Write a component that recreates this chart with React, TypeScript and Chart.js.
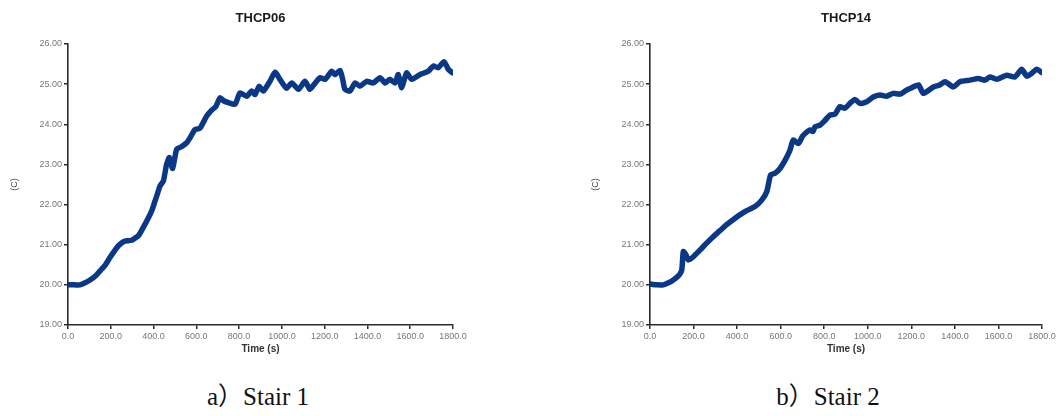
import React, { useEffect, useRef } from "react";
import { Chart, registerables } from "chart.js";

Chart.register(...registerables);

// ---- data ----
const stair1Title = "THCP06";
const stair1Times = [0, 30, 56, 80, 103, 128, 150, 175, 196, 215, 235, 252, 266, 282, 298, 315, 329, 352, 376, 392, 407, 420, 430, 446, 461, 474, 489, 508, 530, 555, 570, 594, 617, 648, 672, 692, 711, 730, 750, 781, 804, 835, 859, 874, 894, 913, 944, 968, 991, 1022, 1046, 1077, 1108, 1131, 1150, 1178, 1202, 1233, 1248, 1272, 1285, 1295, 1318, 1342, 1365, 1396, 1427, 1459, 1482, 1505, 1529, 1544, 1560, 1583, 1607, 1646, 1684, 1708, 1731, 1758, 1778, 1798];
const stair1Temps = [20.0, 20.0, 20.0, 20.05, 20.12, 20.22, 20.35, 20.5, 20.68, 20.83, 20.97, 21.05, 21.09, 21.1, 21.11, 21.17, 21.22, 21.43, 21.67, 21.85, 22.09, 22.3, 22.46, 22.59, 23.0, 23.17, 22.9, 23.38, 23.44, 23.54, 23.66, 23.87, 23.9, 24.2, 24.35, 24.45, 24.66, 24.58, 24.54, 24.5, 24.78, 24.7, 24.83, 24.74, 24.95, 24.83, 25.07, 25.3, 25.12, 24.9, 25.03, 24.87, 25.07, 24.87, 24.99, 25.16, 25.12, 25.32, 25.24, 25.34, 25.1, 24.87, 24.83, 25.03, 24.95, 25.07, 25.03, 25.16, 25.03, 25.12, 25.03, 25.24, 24.91, 25.28, 25.12, 25.24, 25.32, 25.45, 25.41, 25.56, 25.37, 25.28];

const stair2Title = "THCP14";
const stair2Times = [0, 30, 61, 85, 107, 125, 135, 146, 153, 165, 176, 199, 230, 260, 290, 321, 352, 383, 414, 444, 482, 513, 536, 554, 574, 597, 620, 643, 658, 681, 700, 712, 735, 748, 758, 781, 804, 826, 849, 872, 895, 918, 941, 964, 995, 1025, 1056, 1086, 1117, 1148, 1178, 1194, 1233, 1255, 1301, 1330, 1355, 1393, 1423, 1469, 1508, 1538, 1561, 1592, 1638, 1676, 1707, 1730, 1753, 1776, 1799];
const stair2Temps = [20.02, 20.0, 20.0, 20.05, 20.12, 20.2, 20.25, 20.37, 20.83, 20.75, 20.62, 20.7, 20.87, 21.04, 21.2, 21.35, 21.5, 21.63, 21.75, 21.85, 21.95, 22.11, 22.32, 22.74, 22.78, 22.9, 23.1, 23.36, 23.61, 23.52, 23.7, 23.77, 23.86, 23.82, 23.94, 23.98, 24.1, 24.23, 24.25, 24.44, 24.4, 24.52, 24.62, 24.52, 24.56, 24.68, 24.73, 24.7, 24.77, 24.75, 24.85, 24.89, 24.98, 24.77, 24.93, 24.98, 25.06, 24.93, 25.06, 25.1, 25.14, 25.1, 25.18, 25.12, 25.22, 25.18, 25.37, 25.2, 25.27, 25.37, 25.29];

const yMin = 19;
const yMax = 26;
const xMin = 0;
const xMax = 1800;
const yAxisTitle = "(C)";
const xAxisTitle = "Time (s)";
const captionA = "a）Stair 1";
const captionB = "b）Stair 2";

const LINE_COLOR = "#0a3886";
const AXIS_COLOR = "#2a2a2a";
const SANS = "'Liberation Sans', Arial, sans-serif";

type PanelProps = {
  title: string;
  times: number[];
  temps: number[];
  left: number;
  width: number;
  yAxisWidth: number;
  rightPad: number;
};

function Panel({ title, times, temps, left, width, yAxisWidth, rightPad }: PanelProps) {
  const ref = useRef<HTMLCanvasElement | null>(null);
  useEffect(() => {
    if (!ref.current) return;
    const data = times.map((t, i) => ({ x: t, y: temps[i] }));
    const chart = new Chart(ref.current, {
      type: "line",
      data: {
        datasets: [
          {
            data,
            borderColor: LINE_COLOR,
            backgroundColor: LINE_COLOR,
            borderWidth: 5.5,
            pointRadius: 0,
            tension: 0.2,
            borderCapStyle: "round",
            borderJoinStyle: "round",
            fill: false,
          },
        ],
      },
      options: {
        responsive: false,
        maintainAspectRatio: false,
        animation: false,
        layout: { padding: { left: 0, top: 0, right: rightPad, bottom: 15 } },
        plugins: {
          legend: { display: false },
          tooltip: { enabled: false },
          title: {
            display: true,
            text: title,
            fullSize: false,
            color: "#1a1a1a",
            font: { family: SANS, size: 13, weight: "bold", lineHeight: 1 },
            padding: { top: 12, bottom: 19 },
          },
        },
        scales: {
          x: {
            type: "linear",
            min: xMin,
            max: xMax,
            afterFit: (s: any) => {
              s.height = 30;
            },
            ticks: {
              stepSize: 200,
              autoSkip: false,
              maxRotation: 0,
              padding: 2,
              color: "#777",
              font: { family: SANS, size: 9 },
              callback: (v: any) => Number(v).toFixed(1),
            },
            grid: { drawOnChartArea: false, drawTicks: true, tickLength: 4, color: AXIS_COLOR, lineWidth: 1.5 },
            border: { display: true, color: AXIS_COLOR, width: 1.6 },
            title: {
              display: true,
              text: xAxisTitle,
              color: "#333",
              font: { family: SANS, size: 10, weight: "bold", lineHeight: 1 },
              padding: { top: 0, bottom: 1 },
            },
          },
          y: {
            type: "linear",
            min: yMin,
            max: yMax,
            afterFit: (s: any) => {
              s.width = yAxisWidth;
            },
            ticks: {
              stepSize: 1,
              padding: 2,
              color: "#777",
              font: { family: SANS, size: 9 },
              callback: (v: any) => Number(v).toFixed(2),
            },
            grid: { drawOnChartArea: false, drawTicks: true, tickLength: 4, color: AXIS_COLOR, lineWidth: 1.5 },
            border: { display: true, color: AXIS_COLOR, width: 1.6 },
            title: {
              display: true,
              text: yAxisTitle,
              color: "#444",
              font: { family: SANS, size: 9, lineHeight: 1.2 },
              padding: { top: 9, bottom: 0 },
            },
          },
        },
      },
    } as any);
    return () => chart.destroy();
  }, [title, times, temps, yAxisWidth, rightPad]);

  return (
    <canvas
      ref={ref}
      width={width}
      height={370}
      style={{ position: "absolute", left, top: 0, width, height: 370, display: "block" }}
    />
  );
}

const captionStyle: React.CSSProperties = {
  position: "absolute",
  top: 381,
  width: 240,
  textAlign: "center",
  fontFamily: "'Liberation Serif', 'Noto Sans CJK SC', serif",
  fontSize: 25,
  lineHeight: "32px",
  color: "#111",
  whiteSpace: "nowrap",
};

export default function App() {
  return (
    <div style={{ position: "absolute", left: 0, top: 0, width: 1062, height: 416, background: "#fff", overflow: "hidden" }}>
      <Panel title={stair1Title} times={stair1Times} temps={stair1Temps} left={0} width={530} yAxisWidth={68} rightPad={77} />
      <Panel title={stair2Title} times={stair2Times} temps={stair2Temps} left={581} width={481} yAxisWidth={69} rightPad={20} />
      <div style={{ ...captionStyle, left: 258 - 120 }}>{captionA}</div>
      <div style={{ ...captionStyle, left: 828 - 120 }}>{captionB}</div>
    </div>
  );
}
